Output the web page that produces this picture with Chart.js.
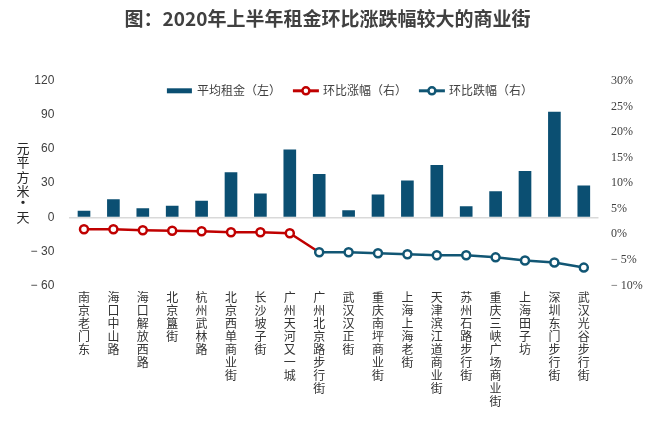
<!DOCTYPE html>
<html><head><meta charset="utf-8">
<script src="https://cdn.jsdelivr.net/npm/chart.js@4.4.1/dist/chart.umd.min.js"></script>
<style>html,body{margin:0;padding:0;background:#fff}#wrap{width:671px;height:447px}</style>
</head><body><div id="wrap"><canvas id="c" width="671" height="447"></canvas></div>
<script>
const titleText = '图：2020年上半年租金环比涨跌幅较大的商业街';
const yTitleText = '元/平方米·天';
const seriesNames = ['平均租金（左）', '环比涨幅（右）', '环比跌幅（右）'];
const categories = ['南京老门东','海口中山路','海口解放西路','北京簋街','杭州武林路','北京西单商业街','长沙坡子街','广州天河又一城','广州北京路步行街','武汉汉正街','重庆南坪商业街','上海上海老街','天津滨江道商业街','苏州石路步行街','重庆三峡广场商业街','上海田子坊','深圳东门步行街','武汉光谷步行街'];
const rentValues = [5.5,15.5,7.6,9.9,14.2,39.3,20.7,59.2,37.8,5.8,19.8,32.1,45.7,9.3,22.5,40.5,92.4,27.7];
const changeValues = [1.0,1.0,0.8,0.7,0.6,0.4,0.4,0.2,-3.5,-3.5,-3.7,-3.9,-4.1,-4.1,-4.5,-5.1,-5.5,-6.5];
const riseCount = 8;
const leftTicks = [-60,-30,0,30,60,90,120];
const rightTicks = [-10,-5,0,5,10,15,20,25,30];

const BAR = '#0b4f72', RED = '#c00000', BLUE = '#115674';
const riseData = changeValues.map((v,i) => i <= riseCount ? v : null);
const fallData = changeValues.map((v,i) => i >= riseCount ? v : null);
const minus = v => v < 0 ? '\u2212 ' + Math.abs(v) : String(v);

const legendPlugin = {
  id: 'customLegend',
  afterDraw(chart) {
    const ctx = chart.ctx, ds = chart.data.datasets, ca = chart.chartArea;
    ctx.save();
    ctx.font = '12px "Noto Sans CJK SC"';
    ctx.textBaseline = 'middle';
    const sw = 26, gapText = 4, gapItem = 12;
    const widths = ds.map(d => sw + gapText + ctx.measureText(d.label).width);
    const total = widths.reduce((a,b)=>a+b,0) + gapItem*(ds.length-1);
    let x = (ca.left + ca.right)/2 + 16 - total/2;
    const y = ca.top + 10;
    ds.forEach((d,i) => {
      if (d.type === 'line') {
        ctx.strokeStyle = d.borderColor; ctx.lineWidth = 3;
        ctx.beginPath(); ctx.moveTo(x, y); ctx.lineTo(x+sw, y); ctx.stroke();
        ctx.beginPath(); ctx.arc(x+sw/2, y, 3.5, 0, Math.PI*2);
        ctx.fillStyle = '#fff'; ctx.fill(); ctx.lineWidth = 2.5; ctx.stroke();
      } else {
        ctx.fillStyle = d.backgroundColor;
        ctx.fillRect(x, y-2.5, sw-1, 5);
      }
      ctx.fillStyle = '#404040';
      ctx.fillText(d.label, x + sw + gapText, y);
      x += widths[i] + gapItem;
    });
    ctx.restore();
  }
};

const yTitlePlugin = {
  id: 'yTitle',
  afterDraw(chart) {
    const ctx = chart.ctx;
    ctx.save();
    ctx.fillStyle = '#262626';
    ctx.textAlign = 'center'; ctx.textBaseline = 'middle';
    const cx = 23;
    let y = 148;
    const chars = Array.from(yTitleText);
    chars.forEach(ch => {
      if (ch === '/') {
        ctx.font = '9px "Noto Sans CJK SC"';
        ctx.fillText(ch, cx, y - 7);
        return;
      }
      ctx.font = '13px "Noto Sans CJK SC"';
      if (ch === '·') { ctx.font = 'bold 13px "Noto Sans CJK SC"'; ctx.fillText('•', cx, y - 3.5); y += 11; return; }
      ctx.fillText(ch, cx, y);
      y += 14.5;
    });
    ctx.restore();
  }
};

new Chart(document.getElementById('c'), {
  type: 'bar',
  data: {
    labels: categories,
    datasets: [
      { type: 'bar', label: seriesNames[0], data: rentValues, backgroundColor: BAR, barThickness: 12, yAxisID: 'y', order: 3 },
      { type: 'line', label: seriesNames[1], data: riseData, borderColor: RED, borderWidth: 2.5, pointRadius: riseData.map((v,i)=> i < riseCount ? 4 : 0), pointBackgroundColor: '#fff', pointBorderColor: RED, pointBorderWidth: 2.5, yAxisID: 'y1', order: 2, spanGaps: false },
      { type: 'line', label: seriesNames[2], data: fallData, borderColor: BLUE, borderWidth: 2.5, pointRadius: 4, pointBackgroundColor: '#fff', pointBorderColor: BLUE, pointBorderWidth: 2.5, yAxisID: 'y1', order: 1 }
    ]
  },
  options: {
    responsive: false, animation: false, devicePixelRatio: 1,
    layout: { padding: { left: 0, right: 16, top: 0, bottom: 0 } },
    plugins: {
      legend: { display: false },
      tooltip: { enabled: false },
      title: { display: true, text: titleText, color: '#404040', font: { size: 19, weight: 'bold', family: '"Noto Sans CJK SC"', lineHeight: 1.2 }, padding: { top: 7, bottom: 51 } }
    },
    scales: {
      x: {
        grid: { display: false, drawTicks: false }, border: { display: false },
        ticks: { autoSkip: false, maxRotation: 0, minRotation: 0, padding: 5, color: '#333', font: { size: 12, family: '"Noto Sans CJK SC"', lineHeight: '13px' }, callback: function(v,i){ return Array.from(categories[i]); } },
        afterFit: s => { s.height = 161.5; }
      },
      y: {
        position: 'left', min: -60, max: 120,
        afterBuildTicks: s => { s.ticks = leftTicks.map(v => ({ value: v })); },
        grid: { drawTicks: false, color: c => c.tick && c.tick.value === 0 ? '#d9d9d9' : 'rgba(0,0,0,0)', lineWidth: 1.5 },
        border: { display: false },
        ticks: { padding: 15, color: '#404040', font: { size: 12, family: '"Liberation Sans"' }, callback: v => minus(v) },
        afterFit: s => { s.width = 69.3; }
      },
      y1: {
        position: 'right', min: -10, max: 30,
        afterBuildTicks: s => { s.ticks = rightTicks.map(v => ({ value: v })); },
        grid: { display: false, drawTicks: false }, border: { display: false },
        ticks: { padding: 12.5, color: '#404040', font: { size: 12, family: '"Liberation Serif"' }, callback: v => minus(v) + '%' },
        afterFit: s => { s.width = 56.5; }
      }
    }
  },
  plugins: [legendPlugin, yTitlePlugin]
});
</script></body></html>
